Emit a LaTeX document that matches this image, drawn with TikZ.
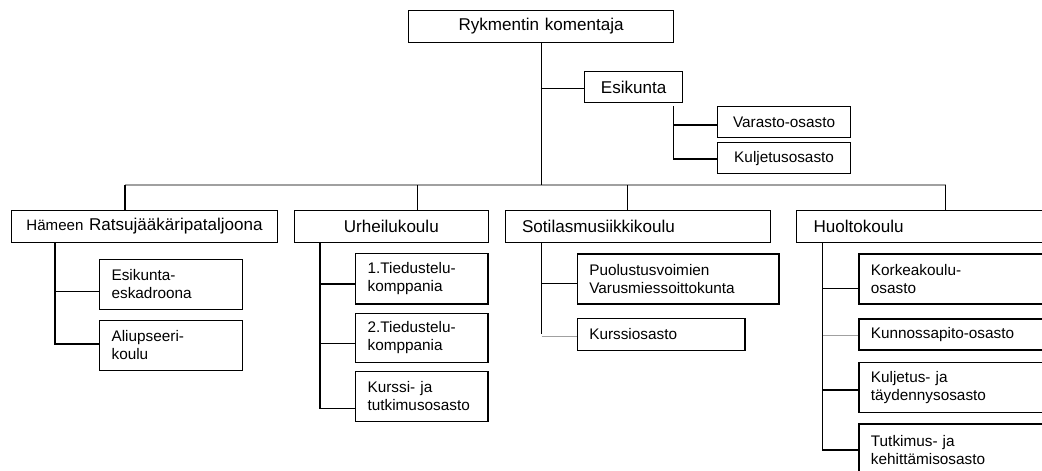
\documentclass[tikz,border=0pt]{standalone}
\usepackage{fontspec}
\setmainfont{Liberation Sans}
\usetikzlibrary{calc}
\definecolor{linegray}{RGB}{160,160,160}
\begin{document}
\begin{tikzpicture}[x=0.75pt,y=-0.75pt,
  line width=0.9pt,
  boxbase/.style={draw, anchor=north west, inner sep=0pt, line width=0.9pt},
  bigtext/.style={font=\fontsize{12.8}{15}\selectfont},
  smalltext/.style={font=\fontsize{11.5}{13.2}\selectfont},
  % centred label: width, height
  cbox/.style 2 args={boxbase, align=center, minimum width=#1*0.75pt,
    minimum height=#2*0.75pt, text width=(#1-4)*0.75pt},
  % left-aligned label with 12px padding
  lbox/.style 2 args={boxbase, align=left, minimum width=#1*0.75pt,
    minimum height=#2*0.75pt, text width=(#1-24)*0.75pt},
  % left-aligned label with 17px padding
  wbox/.style 2 args={boxbase, align=left, minimum width=#1*0.75pt,
    minimum height=#2*0.75pt, text width=(#1-34)*0.75pt},
  link/.style={draw=black, line width=0.9pt},
  graylink/.style={draw=linegray, line width=0.9pt}
]
\useasboundingbox (0,0) rectangle (1042,471);
\clip (0,0) rectangle (1042,471);

% commander and staff
\node[cbox={265}{32.5}, bigtext] (top) at (408,9.5) {Rykmentin komentaja};
\node[cbox={98}{31}, bigtext] (esik) at (584,71) {Esikunta};
\node[cbox={133}{31}, smalltext] (var) at (717,106) {Varasto-osasto};
\node[cbox={133}{31}, smalltext] (kulj) at (717,142) {Kuljetusosasto};

% units
\node[cbox={266}{32.5}, bigtext] (ham) at (11,209.5)
  {{\fontsize{11.3}{13}\selectfont Hämeen} Ratsujääkäripataljoona};
\node[cbox={193.5}{32.5}, bigtext] (urh) at (294,209.5) {Urheilukoulu};
\node[wbox={265}{32.5}, bigtext] (sot) at (504.5,209.5) {Sotilasmusiikkikoulu};
\node[wbox={254}{32.5}, bigtext] (huo) at (796,209.5) {Huoltokoulu};

% sub-units
\node[lbox={142.5}{50}, smalltext] (e1) at (99,258.5) {Esikunta-\\eskadroona};
\node[lbox={142.5}{50}, smalltext] (e2) at (99,319.5) {Aliupseeri-\\koulu};

\node[lbox={132.3}{50.6}, smalltext] (u1) at (355,252.7) {1.Tiedustelu-\\komppania};
\node[lbox={132.3}{49}, smalltext] (u2) at (355,312.7) {2.Tiedustelu-\\komppania};
\node[lbox={132.3}{50}, smalltext] (u3) at (355,370.7) {Kurssi- ja\\tutkimusosasto};

\node[lbox={201.6}{50}, smalltext] (s1) at (576.7,253.3) {Puolustusvoimien\\Varusmiessoittokunta};
\node[lbox={167.6}{32.3}, smalltext] (s2) at (576.7,317.7) {Kurssiosasto};

\node[lbox={191.7}{50}, smalltext] (h1) at (858.3,253.3) {Korkeakoulu-\\osasto};
\node[lbox={191.7}{31}, smalltext] (h2) at (858.3,318.3) {Kunnossapito-osasto};
\node[lbox={191.7}{50}, smalltext] (h3) at (858.3,361.7) {Kuljetus- ja\\täydennysosasto};
\node[lbox={191.7}{52}, smalltext] (h4) at (858.3,423.3) {Tutkimus- ja\\kehittämisosasto};

% main trunk and bus
\coordinate (bL) at (125,185);
\coordinate (b2) at (417.7,185);
\coordinate (b3) at (627.7,185);
\coordinate (bR) at (945.7,185);
\coordinate (tk) at (540.5,88.3);
\path[graylink] (bL) -- (bR);
\path[link] (top.south) -- (top.south |- bL);
\path[link] (tk) -- (tk -| esik.west);

% staff branch
\coordinate (et) at (673.3,106);
\path[link] (et) |- ($(var.west)+(0,2.8)$);
\path[link] (et) |- ($(kulj.west)+(0,0.8)$);

% drops from the bus
\path[link] (bL) -- (bL |- ham.north);
\path[link] (b2) -- (b2 |- urh.north);
\path[link] (b3) -- (b3 |- sot.north);
\path[link] (bR) -- (bR |- huo.north);

% unit branches
\coordinate (ht) at (55,242);
\path[link] (ht) |- ($(e1.west)+(0,7.5)$);
\path[link] (ht) |- ($(e2.west)+(0,-1.2)$);

\coordinate (ut) at (320,242);
\path[link] (ut) |- ($(u1.west)+(0,5.3)$);
\path[link] (ut) |- ($(u2.west)+(0,5.5)$);
\path[link] (ut) |- ($(u3.west)+(0,12)$);

\coordinate (st) at (541.7,242);
\path[link] (st) |- ($(s1.west)+(0,4.4)$);
\path[link] (st) -- (st |- s2.west);
\path[graylink] ($(st |- s2.west)+(0,1.9)$) -- ($(s2.west)+(0,1.9)$);

\coordinate (hut) at (822.7,242);
\path[link] (hut) |- ($(h1.west)+(0,9.4)$);
\path[graylink] ($(hut |- h2.west)+(0,1.2)$) -- ($(h2.west)+(0,1.2)$);
\path[link] (hut) |- ($(h3.west)+(0,2.6)$);
\path[link] (hut) |- (h4.west);
\end{tikzpicture}
\end{document}
